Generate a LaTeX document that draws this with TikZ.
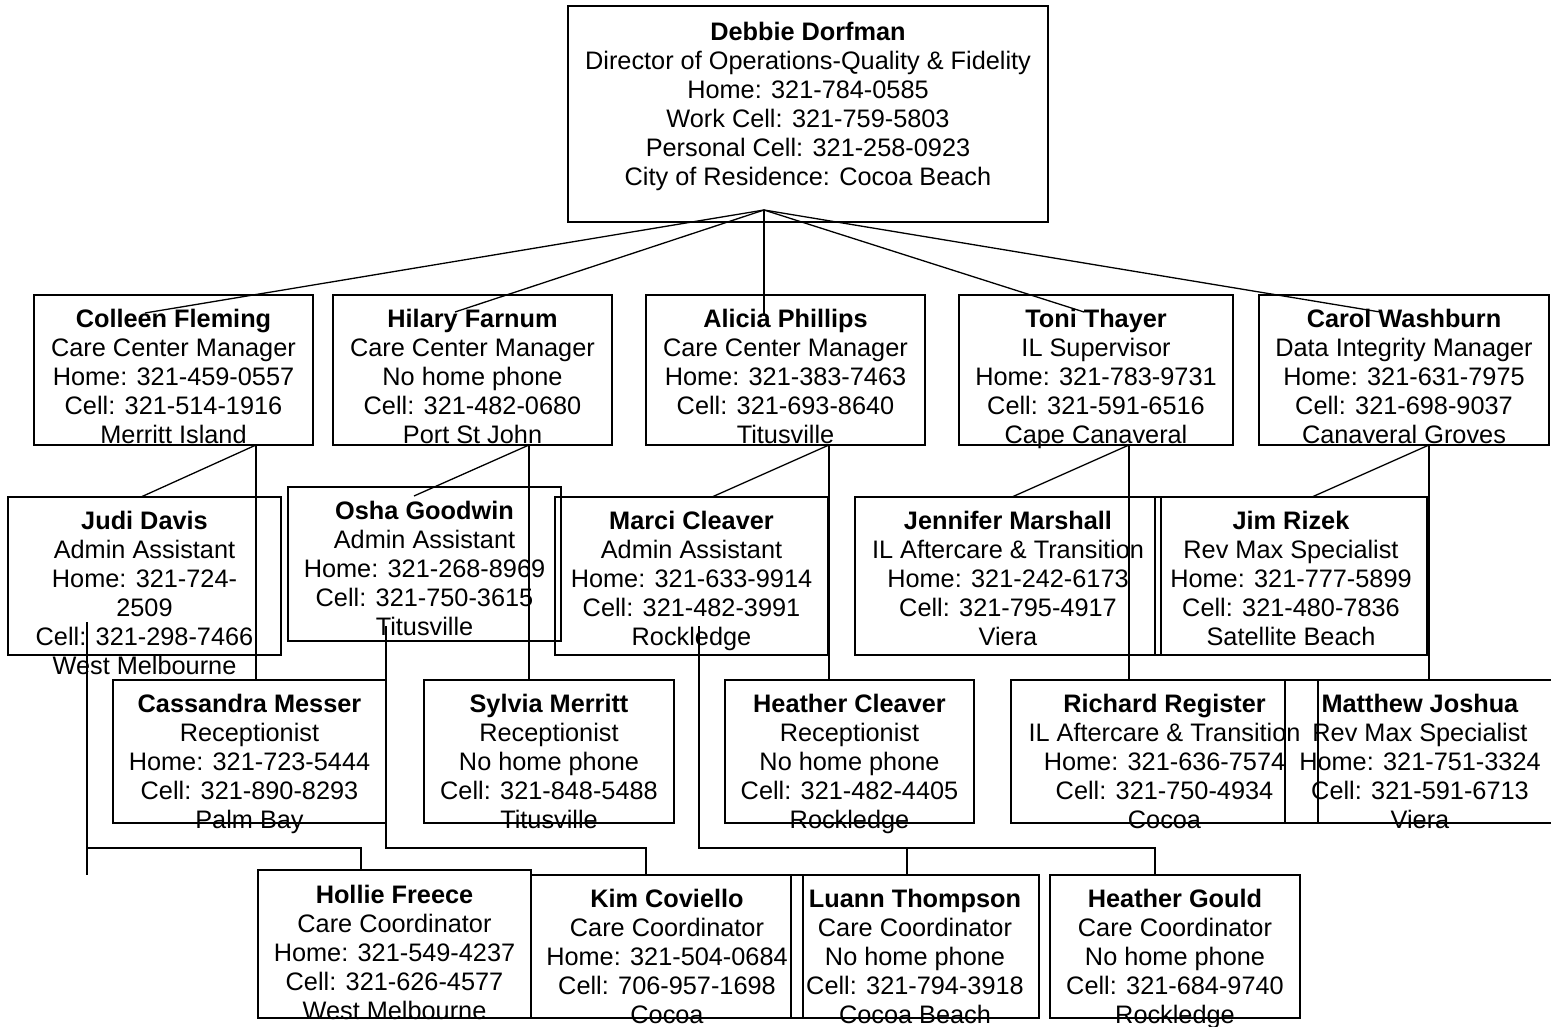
\documentclass[tikz,border=0pt]{standalone}
\usepackage{fontspec}
\setmainfont{Liberation Sans}
\begin{document}
\begin{tikzpicture}[x=1pt, y=-1pt,
  box/.style={draw, line width=1.5pt, inner sep=0pt},
  card/.style={align=center, inner sep=0pt, anchor=north, font=\fontsize{25.3}{29}\selectfont},
  link/.style={line width=1.3pt}]
\useasboundingbox (0,0) rectangle (1551,1027);
\fill[white] (0,0) rectangle (1551,1027);

% director
\node[box, minimum width=480pt, minimum height=216pt] (dd) at (808,114) {};
\node[card] (dd-t) at (808,22) {\textbf{Debbie Dorfman}\\Director of Operations-Quality \& Fidelity\\Home: 321-784-0585\\Work Cell: 321-759-5803\\Personal Cell: 321-258-0923\\City of Residence: Cocoa Beach};

% managers
\node[box, minimum width=279pt, minimum height=150pt] (cf) at (173.5,370) {};
\node[card] (cf-t) at (173.5,309) {\textbf{Colleen Fleming}\\Care Center Manager\\Home: 321-459-0557\\Cell: 321-514-1916\\Merritt Island};
\node[box, minimum width=279pt, minimum height=150pt] (hf) at (472.5,370) {};
\node[card] (hf-t) at (472.5,309) {\textbf{Hilary Farnum}\\Care Center Manager\\No home phone\\Cell: 321-482-0680\\Port St John};
\node[box, minimum width=279pt, minimum height=150pt] (ap) at (785.5,370) {};
\node[card] (ap-t) at (785.5,309) {\textbf{Alicia Phillips}\\Care Center Manager\\Home: 321-383-7463\\Cell: 321-693-8640\\Titusville};
\node[box, minimum width=274pt, minimum height=150pt] (tt) at (1096,370) {};
\node[card] (tt-t) at (1096,309) {\textbf{Toni Thayer}\\IL Supervisor\\Home: 321-783-9731\\Cell: 321-591-6516\\Cape Canaveral};
\node[box, minimum width=290pt, minimum height=150pt] (cw) at (1404,370) {};
\node[card] (cw-t) at (1404,309) {\textbf{Carol Washburn}\\Data Integrity Manager\\Home: 321-631-7975\\Cell: 321-698-9037\\Canaveral Groves};

% assistants and specialists
\node[box, minimum width=273pt, minimum height=158pt] (jd) at (144.5,576) {};
\node[card] (jd-t) at (144.5,511) {\textbf{Judi Davis}\\Admin Assistant\\Home: 321-724-\\2509\\Cell: 321-298-7466\\West Melbourne};
\node[box, minimum width=273pt, minimum height=154pt] (og) at (424.5,564) {};
\node[card] (og-t) at (424.5,501) {\textbf{Osha Goodwin}\\Admin Assistant\\Home: 321-268-8969\\Cell: 321-750-3615\\Titusville};
\node[box, minimum width=273pt, minimum height=158pt] (mc) at (691.5,576) {};
\node[card] (mc-t) at (691.5,511) {\textbf{Marci Cleaver}\\Admin Assistant\\Home: 321-633-9914\\Cell: 321-482-3991\\Rockledge};
\node[box, minimum width=306pt, minimum height=158pt] (jm) at (1008,576) {};
\node[card] (jm-t) at (1008,511) {\textbf{Jennifer Marshall}\\IL Aftercare \& Transition\\Home: 321-242-6173\\Cell: 321-795-4917\\Viera};
\node[box, minimum width=272pt, minimum height=158pt] (jr) at (1291,576) {};
\node[card] (jr-t) at (1291,511) {\textbf{Jim Rizek}\\Rev Max Specialist\\Home: 321-777-5899\\Cell: 321-480-7836\\Satellite Beach};

% receptionists
\node[box, minimum width=273pt, minimum height=143pt] (cm) at (249.5,751.5) {};
\node[card] (cm-t) at (249.5,694) {\textbf{Cassandra Messer}\\Receptionist\\Home: 321-723-5444\\Cell: 321-890-8293\\Palm Bay};
\node[box, minimum width=250pt, minimum height=143pt] (sm) at (549,751.5) {};
\node[card] (sm-t) at (549,694) {\textbf{Sylvia Merritt}\\Receptionist\\No home phone\\Cell: 321-848-5488\\Titusville};
\node[box, minimum width=249pt, minimum height=143pt] (hc) at (849.5,751.5) {};
\node[card] (hc-t) at (849.5,694) {\textbf{Heather Cleaver}\\Receptionist\\No home phone\\Cell: 321-482-4405\\Rockledge};
\node[box, minimum width=307pt, minimum height=143pt] (rr) at (1164.5,751.5) {};
\node[card] (rr-t) at (1164.5,694) {\textbf{Richard Register}\\IL Aftercare \& Transition\\Home: 321-636-7574\\Cell: 321-750-4934\\Cocoa};
\node[box, minimum width=270pt, minimum height=143pt] (mj) at (1420,751.5) {};
\node[card] (mj-t) at (1420,694) {\textbf{Matthew Joshua}\\Rev Max Specialist\\Home: 321-751-3324\\Cell: 321-591-6713\\Viera};

% coordinators
\node[box, minimum width=273pt, minimum height=148pt] (hfr) at (394.5,944) {};
\node[card] (hfr-t) at (394.5,885) {\textbf{Hollie Freece}\\Care Coordinator\\Home: 321-549-4237\\Cell: 321-626-4577\\West Melbourne};
\node[box, minimum width=272pt, minimum height=143pt] (kc) at (667,946.5) {};
\node[card] (kc-t) at (667,889) {\textbf{Kim Coviello}\\Care Coordinator\\Home: 321-504-0684\\Cell: 706-957-1698\\Cocoa};
\node[box, minimum width=248pt, minimum height=143pt] (lt) at (915,946.5) {};
\node[card] (lt-t) at (915,889) {\textbf{Luann Thompson}\\Care Coordinator\\No home phone\\Cell: 321-794-3918\\Cocoa Beach};
\node[box, minimum width=250pt, minimum height=143pt] (hg) at (1175,946.5) {};
\node[card] (hg-t) at (1175,889) {\textbf{Heather Gould}\\Care Coordinator\\No home phone\\Cell: 321-684-9740\\Rockledge};

% connector ends
\coordinate (dd-out) at (764,210);
\coordinate (cf-in) at (145,313);
\coordinate (hf-in) at (455,312);
\coordinate (ap-in) at (764,316);
\coordinate (tt-in) at (1084,312);
\coordinate (cw-in) at (1380,312);
\coordinate (cf-out) at (256,445);
\coordinate (hf-out) at (529,445);
\coordinate (ap-out) at (829,445);
\coordinate (tt-out) at (1129,445);
\coordinate (cw-out) at (1429,445);
\coordinate (jd-in) at (141,497);
\coordinate (og-in) at (414,496);
\coordinate (mc-in) at (712,497);
\coordinate (jm-in) at (1012,497);
\coordinate (jr-in) at (1312,497);
\coordinate (cm-in) at (256,680);
\coordinate (sm-in) at (529,680);
\coordinate (hc-in) at (829,680);
\coordinate (rr-in) at (1129,680);
\coordinate (mj-in) at (1429,679);
\coordinate (jd-out) at (87,622);
\coordinate (jd-end) at (87,875);
\coordinate (jd-bus) at (87,848);
\coordinate (og-out) at (386,626);
\coordinate (og-bus) at (386,848);
\coordinate (mc-out) at (699,626);
\coordinate (mc-bus) at (699,848);
\coordinate (hfr-in) at (361,870);
\coordinate (kc-in) at (646,875);
\coordinate (lt-in) at (907,875);
\coordinate (hg-in) at (1155,875);

\draw[link] (dd-out) -- (cf-in);
\draw[link] (dd-out) -- (hf-in);
\draw[link] (dd-out) -- (ap-in);
\draw[link] (dd-out) -- (tt-in);
\draw[link] (dd-out) -- (cw-in);

\draw[link] (cf-out) -- (jd-in);
\draw[link] (cf-out) -- (cm-in);
\draw[link] (hf-out) -- (og-in);
\draw[link] (hf-out) -- (sm-in);
\draw[link] (ap-out) -- (mc-in);
\draw[link] (ap-out) -- (hc-in);
\draw[link] (tt-out) -- (jm-in);
\draw[link] (tt-out) -- (rr-in);
\draw[link] (cw-out) -- (jr-in);
\draw[link] (cw-out) -- (mj-in);

\draw[link] (jd-out) -- (jd-end);
\draw[link] (jd-bus) -| (hfr-in);
\draw[link] (og-out) -- (og-bus) -| (kc-in);
\draw[link] (mc-out) -- (mc-bus) -| (hg-in);
\draw[link] (lt-in |- mc-bus) -- (lt-in);
\end{tikzpicture}
\end{document}
